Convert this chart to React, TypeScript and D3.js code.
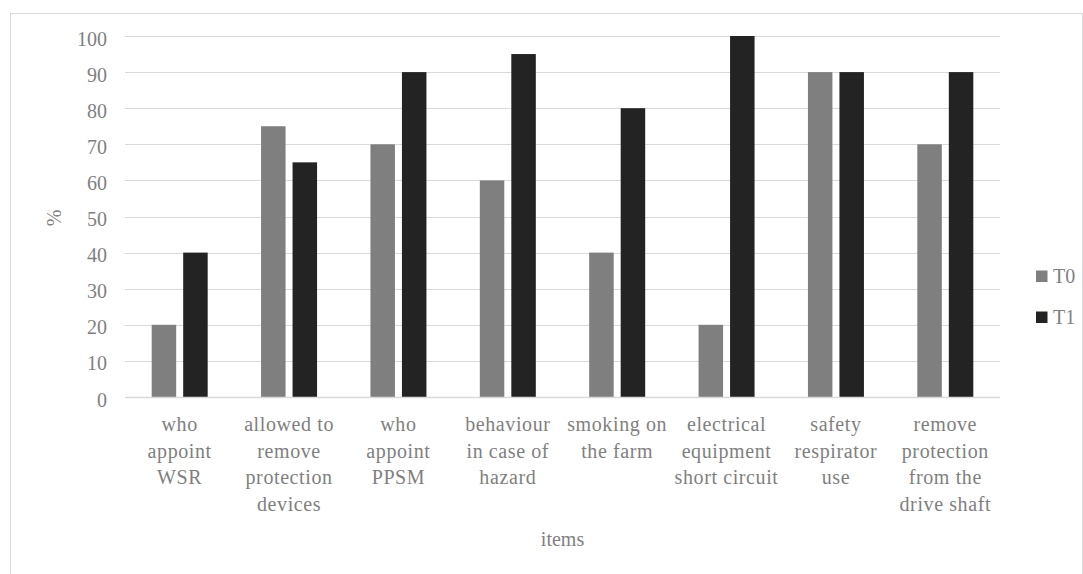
import React from "react";
import * as d3 from "d3";

const categories: string[][] = [
  ["who", "appoint", "WSR"],
  ["allowed to", "remove", "protection", "devices"],
  ["who", "appoint", "PPSM"],
  ["behaviour", "in case of", "hazard"],
  ["smoking on", "the farm"],
  ["electrical", "equipment", "short circuit"],
  ["safety", "respirator", "use"],
  ["remove", "protection", "from the", "drive shaft"],
];
const seriesNames = ["T0", "T1"];
const t0Values = [20, 75, 70, 60, 40, 20, 90, 70];
const t1Values = [40, 65, 90, 95, 80, 100, 90, 90];
const yTicks = [0, 10, 20, 30, 40, 50, 60, 70, 80, 90, 100];
const colors = ["#7f7f7f", "#232323"];

const W = 1083;
const H = 574;
const FONT = "'Liberation Serif', 'Times New Roman', serif";
const TEXT = "#7f7f7f";

export default function App() {
  const keys = categories.map((_, i) => String(i));
  const x0 = d3.scaleBand<string>().domain(keys).range([125, 1000]).paddingInner(0).paddingOuter(0);
  const bw = x0.bandwidth();
  const x1 = d3
    .scaleBand<string>()
    .domain(seriesNames)
    .range([bw / 2 - 28, bw / 2 + 28])
    .paddingInner(7 / 31.5)
    .paddingOuter(0);
  const y = d3.scaleLinear().domain([0, 100]).range([397, 36]);
  const values = [t0Values, t1Values];

  return (
    <svg
      width={W}
      height={H}
      style={{ position: "absolute", left: 0, top: 0, background: "#fff" }}
      fontFamily={FONT}
    >
      <rect x={10.5} y={13.5} width={1072} height={600} fill="#fff" stroke="#d9d9d9" strokeWidth={1} />
      {yTicks.map((t) => (
        <g key={t}>
          {t > 0 && (
            <line x1={125} x2={1000} y1={Math.round(y(t)) + 0.5} y2={Math.round(y(t)) + 0.5} stroke="#d9d9d9" strokeWidth={1} />
          )}
          <text x={107} y={y(t) + 9.5} textAnchor="end" fontSize={20} fill={TEXT}>
            {t}
          </text>
        </g>
      ))}
      {keys.map((k, i) => (
        <g key={k} transform={`translate(${x0(k)},0)`}>
          {seriesNames.map((s, j) => (
            <rect
              key={s}
              x={x1(s)}
              y={y(values[j][i])}
              width={x1.bandwidth()}
              height={y(0) - y(values[j][i])}
              fill={colors[j]}
            />
          ))}
          <text textAnchor="middle" fontSize={20} fill={TEXT} letterSpacing={0.6}>
            {categories[i].map((line, li) => (
              <tspan key={li} x={bw / 2} y={431 + li * 26.5}>
                {line}
              </tspan>
            ))}
          </text>
        </g>
      ))}
      <line x1={125} x2={1000} y1={397.5} y2={397.5} stroke="#d9d9d9" strokeWidth={1.5} />
      <text x={562.5} y={546} textAnchor="middle" fontSize={20} fill={TEXT}>
        items
      </text>
      <text transform="translate(61,218) rotate(-90)" textAnchor="middle" fontSize={20} fill={TEXT}>
        %
      </text>
      {seriesNames.map((s, j) => (
        <g key={s} transform={`translate(1036,${270 + j * 41})`}>
          <rect x={0} y={0.5} width={11.5} height={11.5} fill={colors[j]} />
          <text x={17} y={13} fontSize={20} fill={TEXT}>
            {s}
          </text>
        </g>
      ))}
    </svg>
  );
}
